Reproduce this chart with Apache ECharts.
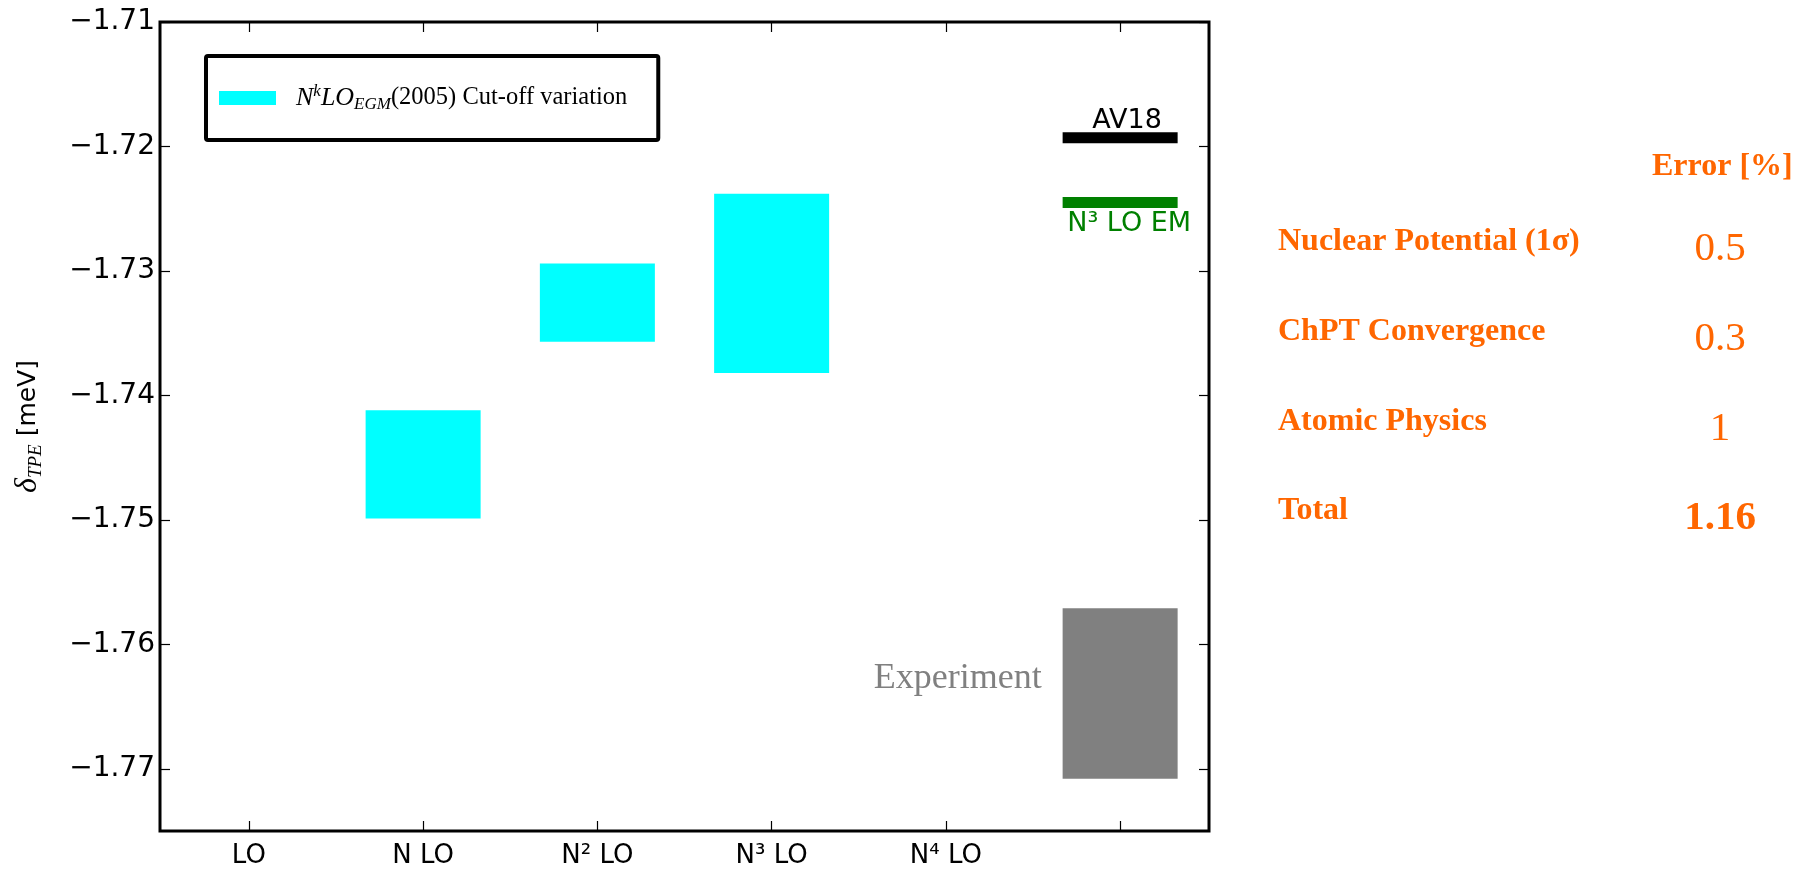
<!DOCTYPE html>
<html><head><meta charset="utf-8">
<script src="https://cdn.jsdelivr.net/npm/echarts@6/dist/echarts.min.js"></script>
<style>html,body{margin:0;padding:0;background:#fff;} #c{width:1797px;height:869px;}</style>
</head><body><div id="c"></div>
<script>
// ---- data ----
const orderLabels = ['LO', 'N LO', 'N² LO', 'N³ LO', 'N⁴ LO', ''];
const orderPositions = [0, 1, 2, 3, 4, 5];
const yTicks = [-1.77, -1.76, -1.75, -1.74, -1.73, -1.72, -1.71];
const nkloOrders = [1, 2, 3];
const nkloLower = [-1.7499, -1.7357, -1.7382];
const nkloUpper = [-1.7412, -1.7294, -1.7238];
const refNames = ['AV18', 'N³ LO EM'];
const refValues = [-1.7193, -1.7245];
const refPositions = [5, 5];
const expPosition = [5];
const expLower = [-1.7708];
const expUpper = [-1.7571];
const expNames = ['Experiment'];
const errorHeader = 'Error [%]';
const errorLabels = ['Nuclear Potential (1σ)', 'ChPT Convergence', 'Atomic Physics', 'Total'];
const errorValues = ['0.5', '0.3', '1', '1.16'];

// ---- chart ----
const NKLO_NAME = 'NkLO_EGM(2005) Cut-off variation';
const HALF = 0.33;
const ORANGE = '#ff6600';
const chart = echarts.init(document.getElementById('c'), null, {renderer: 'canvas'});

function tickAxis(pos, labels) {
  return {
    type: 'value', position: pos, splitLine: {show: false},
    axisLine: {show: false, onZero: false},
    axisTick: {show: true, inside: true, length: 10, lineStyle: {color: '#000', width: 1.2}},
    axisLabel: {show: labels}
  };
}

const xBottom = Object.assign(tickAxis('bottom', true), {min: -0.51, max: 5.51});
xBottom.axisTick.customValues = orderPositions;
xBottom.axisLabel = {show: true, customValues: orderPositions.slice(0, 5), margin: 12,
  formatter: v => orderLabels[Math.round(v)], fontFamily: 'DejaVu Sans', fontSize: 26, color: '#000'};
const xTop = Object.assign(tickAxis('top', false), {min: -0.51, max: 5.51});
xTop.axisTick.customValues = orderPositions;

const yLeft = Object.assign(tickAxis('left', true), {min: -1.775, max: -1.71});
yLeft.axisTick.customValues = yTicks;
yLeft.axisLabel = {show: true, customValues: yTicks, margin: 5,
  formatter: v => '\u2212' + Math.abs(v).toFixed(2), fontFamily: 'DejaVu Sans', fontSize: 28, color: '#000'};
yLeft.name = '{d|δ}{s|TPE}{u| [meV]}';
yLeft.nameLocation = 'middle';
yLeft.nameGap = 115;
yLeft.nameRotate = 90;
yLeft.nameTextStyle = {color: '#000', rich: {
  d: {fontFamily: 'Liberation Serif', fontStyle: 'italic', fontSize: 32, lineHeight: 34, color: '#000'},
  s: {fontFamily: 'Liberation Serif', fontStyle: 'italic', fontSize: 19, lineHeight: 16, verticalAlign: 'bottom', color: '#000'},
  u: {fontFamily: 'DejaVu Sans', fontSize: 25, lineHeight: 34, color: '#000'}
}};
const yRight = Object.assign(tickAxis('right', false), {min: -1.775, max: -1.71});
yRight.axisTick.customValues = yTicks;

const graphics = [];
graphics.push({type: 'text', style: {text: errorHeader, x: 1652, y: 166.5,
  align: 'left', verticalAlign: 'middle', textAlign: 'left', textVerticalAlign: 'middle',
  font: 'bold 32px "Liberation Serif"', fill: ORANGE}});
const labelY = [242.2, 332.2, 421.5, 511.2];
errorLabels.forEach((t, i) => {
  graphics.push({type: 'text', style: {text: t, x: 1278, y: labelY[i],
    align: 'left', verticalAlign: 'middle', textAlign: 'left', textVerticalAlign: 'middle',
    font: 'bold 32px "Liberation Serif"', fill: ORANGE}});
  const last = i === errorLabels.length - 1;
  graphics.push({type: 'text', style: {text: errorValues[i], x: 1720, y: labelY[i] + 7.3,
    align: 'center', verticalAlign: 'middle', textAlign: 'center', textVerticalAlign: 'middle',
    font: (last ? 'bold 41px' : '41px') + ' "Liberation Serif"', fill: ORANGE}});
});

const option = {
  animation: false,
  backgroundColor: '#fff',
  grid: {left: 160, right: 588, top: 22, bottom: 38, show: true, borderColor: '#000', borderWidth: 3, backgroundColor: 'transparent'},
  xAxis: [xBottom, xTop],
  yAxis: [yLeft, yRight],
  legend: {
    data: [NKLO_NAME], left: 206, top: 56, icon: 'rect', itemWidth: 57, itemHeight: 14,
    padding: [27, 31, 27, 13], borderColor: '#000', borderWidth: 4, borderRadius: 2,
    selectedMode: false,
    formatter: () => '{m|N}{sup|k}{m|LO}{sub|EGM}{t|(2005) Cut-off variation}',
    textStyle: {padding: [0, 0, 0, 15], color: '#000', rich: {
      m: {fontFamily: 'Liberation Serif', fontStyle: 'italic', fontSize: 26, lineHeight: 30, color: '#000'},
      sup: {fontFamily: 'Liberation Serif', fontStyle: 'italic', fontSize: 17, lineHeight: 18, verticalAlign: 'top', color: '#000'},
      sub: {fontFamily: 'Liberation Serif', fontStyle: 'italic', fontSize: 17, lineHeight: 14, verticalAlign: 'bottom', color: '#000'},
      t: {fontFamily: 'Liberation Serif', fontSize: 24.5, lineHeight: 30, color: '#000'}
    }}
  },
  graphic: graphics,
  series: [
    {
      name: NKLO_NAME, type: 'custom', itemStyle: {color: '#00ffff'},
      data: nkloOrders.map((x, i) => [x, nkloLower[i], nkloUpper[i]]),
      encode: {x: 0, y: [1, 2]},
      renderItem: (params, api) => {
        const x = api.value(0);
        const p1 = api.coord([x - HALF, api.value(2)]);
        const p2 = api.coord([x + HALF, api.value(1)]);
        return {type: 'rect', shape: {x: p1[0], y: p1[1], width: p2[0] - p1[0], height: p2[1] - p1[1]},
          style: {fill: '#00ffff'}};
      }
    },
    {
      name: 'Experiment', type: 'custom', itemStyle: {color: '#808080'},
      data: expPosition.map((x, i) => [x, expLower[i], expUpper[i]]),
      encode: {x: 0, y: [1, 2]},
      renderItem: (params, api) => {
        const x = api.value(0);
        const p1 = api.coord([x - HALF, api.value(2)]);
        const p2 = api.coord([x + HALF, api.value(1)]);
        return {type: 'group', children: [
          {type: 'rect', shape: {x: p1[0], y: p1[1], width: p2[0] - p1[0], height: p2[1] - p1[1]},
            style: {fill: '#808080'}},
          {type: 'text', style: {text: expNames[params.dataIndex], x: p1[0] - 21, y: p1[1] + 70,
            align: 'right', verticalAlign: 'middle', font: '36px "Liberation Serif"', fill: '#808080'}}
        ]};
      }
    },
    {
      name: 'Potentials', type: 'custom',
      data: refPositions.map((x, i) => [x, refValues[i]]),
      encode: {x: 0, y: 1},
      renderItem: (params, api) => {
        const i = params.dataIndex;
        const x = api.value(0);
        const p1 = api.coord([x - HALF, api.value(1)]);
        const p2 = api.coord([x + HALF, api.value(1)]);
        const col = i === 0 ? '#000000' : '#008000';
        return {type: 'group', children: [
          {type: 'rect', shape: {x: p1[0], y: p1[1] - 5.5, width: p2[0] - p1[0], height: 11}, style: {fill: col}},
          {type: 'text', style: {text: refNames[i], x: (p1[0] + p2[0]) / 2 + (i === 0 ? 7 : 9),
            y: p1[1] + (i === 0 ? -16.5 : 21.5),
            align: 'center', verticalAlign: 'middle', font: '27px "DejaVu Sans"', fill: col}}
        ]};
      }
    }
  ]
};
chart.setOption(option);
</script>
</body></html>
